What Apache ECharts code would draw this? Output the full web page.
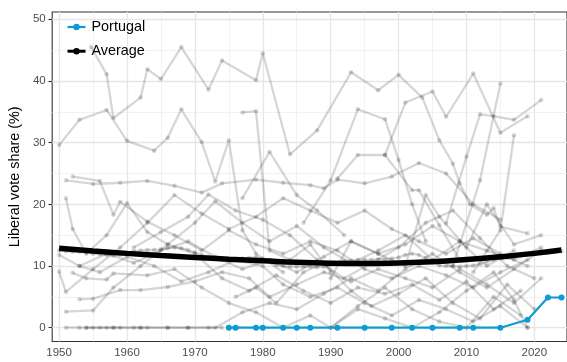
<!DOCTYPE html>
<html>
<head>
<meta charset="utf-8">
<script src="https://cdn.jsdelivr.net/npm/echarts@6/dist/echarts.min.js"></script>
<style>
  html, body { margin: 0; padding: 0; background: #ffffff; overflow: hidden; }
  #chart { width: 567px; height: 362px; }
</style>
</head>
<body>
<div id="chart"></div>
<script>
// Axis breaks
const yearTicks = [1950, 1960, 1970, 1980, 1990, 2000, 2010, 2020];
const yearMinor = [1955, 1965, 1975, 1985, 1995, 2005, 2015];
const shareTicks = [0, 10, 20, 30, 40, 50];
const shareMinor = [5, 15, 25, 35, 45];

// Portugal: election years and liberal vote share (%)
const portugalYears = [1975, 1976, 1979, 1980, 1983, 1985, 1987, 1991, 1995, 1999, 2002, 2005, 2009, 2011, 2015, 2019, 2022, 2024];
const portugalShare = [0, 0, 0, 0, 0, 0, 0, 0, 0, 0, 0, 0, 0, 0, 0, 1.3, 4.9, 4.9];

// Smoothed cross-country average
const averageYears = [1950, 1955, 1960, 1965, 1970, 1975, 1980, 1985, 1990, 1995, 2000, 2005, 2010, 2015, 2020, 2024];
const averageShare = [12.9, 12.45, 12.05, 11.7, 11.4, 11.1, 10.85, 10.6, 10.45, 10.4, 10.5, 10.7, 11.05, 11.5, 12.05, 12.6];

// Year-by-year mean across countries
const yearlyYears = [1950,1951,1952,1953,1954,1955,1956,1957,1958,1959,1960,1961,1962,1963,1964,1965,1966,1967,1968,1969,
  1970,1971,1972,1973,1974,1975,1976,1977,1978,1979,1980,1981,1982,1983,1984,1985,1986,1987,1988,1989,
  1990,1991,1992,1993,1994,1995,1996,1997,1998,1999,2000,2001,2002,2003,2004,2005,2006,2007,2008,2009,
  2010,2011,2012,2013,2014,2015,2016,2017,2018,2019,2020,2021,2022,2023,2024];
const yearlyShare = [12.5,12.4,12.3,12.3,12.2,12.0,11.9,11.8,11.7,11.8,12.0,12.4,12.5,12.6,12.6,12.7,12.9,13.0,12.9,12.6,
  12.2,11.8,11.5,11.3,11.2,11.1,11.1,11.2,11.3,11.4,11.2,10.7,10.2,10.0,9.9,9.9,9.9,9.9,9.8,9.9,
  10.2,10.5,10.8,10.9,11.0,11.0,11.0,11.1,11.1,11.2,11.4,11.8,12.0,11.8,11.3,10.6,10.1,10.0,10.0,9.9,
  10.0,10.1,10.3,10.7,11.0,11.2,11.4,11.6,11.8,11.9,12.0,12.1,12.2,12.3,12.4];

// Other countries: [election year, liberal vote share %]
const countryA = [[1950,29.6],[1953,33.7],[1957,35.3],[1960,30.3],[1964,28.7],[1966,30.8],[1968,35.4],[1971,30.1],[1973,23.7],[1975,30.4],[1977,15.8],[1979,12.0],[1983,9.0]];
const countryB = [[1954.7,45.5],[1957,41.1],[1958,34.0],[1962,37.3],[1963,41.9],[1965,40.3],[1968,45.5],[1972,38.6],[1974,43.3],[1979,40.1],[1980,44.5],[1984,28.1],[1988,32.0],[1993,41.4],[1997,38.5],[2000,41.0],[2003.5,37.3],[2006,30.4],[2008,26.6],[2009,23.4],[2010.5,20.0],[2013,18.3],[2014,19.4],[2015,16.4],[2019,15.3]];
const countryC = [[1977,34.9],[1979,35.1],[1981,12.5],[1984,11.0],[1987,13.5],[1990,9.0]];
const countryD = [[1977,21.0],[1981,28.5],[1985,21.5],[1988,19.0],[1992,15.0]];
const countryE = [[1986,17.0],[1990,23.9],[1994,35.4],[1998,33.8],[2000,27.2],[2002,20.0],[2004,14.0]];
const countryF = [[1991,24.2],[1994,28.0],[1998,28.0],[2002,22.3],[2003,22.3],[2006,16.6],[2009,11.0]];
const countryG = [[1998,28.0],[2001,36.5],[2005,38.3],[2007,34.2],[2011,41.2],[2015,31.6],[2019,34.3]];
const countryH = [[2007,16.9],[2010,27.7],[2012,34.6],[2014,34.3],[2017,33.7],[2021,36.9]];
const countryI = [[2008,10.0],[2012,23.9],[2015,39.6]];
const countryJ = [[2011,9.0],[2015,15.8],[2017,31.2]];
const countryK = [[1951,23.9],[1955,23.3],[1959,23.5],[1963,23.8],[1967,23.0],[1971,21.9],[1974,23.4],[1979,24.0],[1983,23.5],[1987,23.1],[1989,22.6],[1991,24.0],[1995,23.4],[1999,24.5],[2003,26.7],[2007,25.0],[2011,20.0],[2015,17.5]];
const countryL = [[1952,24.5],[1956,23.8],[1958,18.3],[1959,20.4],[1963,17.2],[1967,15.0],[1971,12.5],[1975,15.8],[1979,13.5],[1983,12.0],[1987,14.0],[1991,12.5],[1995,9.5],[1999,8.0],[2003,10.0],[2007,8.5],[2011,6.5],[2015,9.0],[2019,11.0]];
const countryM = [[1951,21.0],[1952,16.0],[1954,12.0],[1957,15.0],[1960,20.2],[1963,15.5],[1966,13.5],[1970,17.0],[1973,20.5],[1977,17.0],[1981,14.0],[1985,16.5],[1989,13.0],[1993,10.5],[1997,12.5],[2001,15.0],[2005,11.0],[2009,14.0],[2013,10.0],[2017,12.5]];
const countryN = [[1950,9.1],[1951,5.8],[1955,9.5],[1959,13.0],[1963,17.0],[1967,21.5],[1971,18.5],[1975,16.0],[1979,18.0],[1983,21.0],[1987,19.0],[1991,17.0],[1995,19.0],[1999,16.0],[2003,14.0],[2007,12.0],[2011,14.5],[2015,12.0],[2019,10.0]];
const countryO = [[1951,2.6],[1955,2.8],[1958,6.5],[1962,10.0],[1966,13.5],[1970,12.0],[1974,8.0],[1978,6.0],[1982,8.5],[1986,6.0],[1990,4.0],[1994,6.5],[1998,5.5],[2002,7.0],[2006,4.5],[2010,7.5],[2014,3.0],[2018,6.0]];
const countryP = [[1953,4.6],[1955,4.7],[1959,6.1],[1962,6.1],[1966,6.6],[1970,7.5],[1974,9.0],[1978,8.0],[1981,5.0],[1985,7.0],[1989,9.0],[1993,7.5],[1997,9.5],[2001,8.0],[2005,6.5],[2009,9.5],[2013,7.0],[2017,4.0],[2021,8.0]];
const countryQ = [[1952,8.9],[1954,8.0],[1957,7.8],[1958,8.8],[1963,8.5],[1967,9.5],[1971,6.5],[1975,4.0],[1979,2.5],[1983,0.0],[1987,2.0],[1990,0.0],[1994,3.5],[1998,6.5],[2002,3.0],[2006,1.0],[2010,0.0],[2014,5.0],[2018,2.0]];
const countryR = [[1950,11.8],[1953,10.0],[1957,12.0],[1961,10.5],[1965,12.5],[1969,14.0],[1973,11.5],[1977,9.5],[1981,11.0],[1985,9.0],[1989,11.5],[1993,14.0],[1997,12.0],[2001,13.5],[2005,16.5],[2009,14.0],[2013,12.5],[2017,11.0],[2021,13.0]];
const countryS = [[1953,10.0],[1956,9.0],[1960,11.5],[1964,10.0],[1968,7.5],[1972,9.0],[1976,11.0],[1980,10.0],[1983,7.0],[1987,5.0],[1991,6.5],[1995,4.0],[1999,2.0],[2003,4.5],[2007,3.0],[2011,1.0],[2015,3.5],[2019,0.0]];
const countryT = [[1961,13.0],[1965,15.5],[1969,18.0],[1972,21.6],[1976,19.0],[1980,17.5],[1984,15.0],[1988,11.0],[1992,8.0],[1996,10.5],[2000,13.0],[2004,17.0],[2008,19.0],[2012,14.5],[2016,10.0],[2020,8.0]];
const countryU = [[1951,0],[1953,0],[1954,0],[1955,0],[1956,0],[1957,0],[1958,0],[1959,0],[1961,0],[1962,0],[1963,0],[1966,0],[1969,0],[1972,0],[1974,0]];
const countryV = [[1954,0],[1958,0],[1962,0],[1966,0],[1969,0],[1973,0],[1977,2.5],[1981,4.0],[1985,3.0],[1989,5.5],[1993,8.0],[1997,6.0],[2001,9.5],[2005,12.0],[2009,9.0],[2013,6.5],[2017,9.5],[2021,12.5]];
const countryW = [[1990,0],[1994,3.0],[1998,1.5],[2002,0],[2006,2.5],[2010,6.0],[2014,9.0],[2017,4.5],[2019,0]];
const countryX = [[1990,8.0],[1993,14.0],[1997,12.0],[2001,10.0],[2004,21.5],[2006,18.0],[2010,13.0],[2013,20.0],[2017,13.5],[2021,15.0]];
const countryY = [[1976,5.0],[1979,6.5],[1982,4.0],[1986,9.0],[1989,10.5],[1993,6.0],[1996,3.5],[2000,5.5],[2004,8.0],[2008,4.0],[2012,1.5],[2016,7.0],[2020,3.0]];

const otherCountries = [countryA, countryB, countryC, countryD, countryE, countryF, countryG, countryH, countryI,
  countryJ, countryK, countryL, countryM, countryN, countryO, countryP, countryQ, countryR, countryS, countryT,
  countryU, countryV, countryW, countryX, countryY];

const PORTUGAL_BLUE = '#0f9ad3';
const FONT = 'Liberation Sans, Arial, sans-serif';
const zip = (xs, ys) => xs.map((x, i) => [x, ys[i]]);

// Panel grid lines, drawn through the axes as mark lines underneath the data
const minorLine = { color: '#ededed', width: 0.7, type: 'solid' };
const majorLine = { color: '#e6e6e6', width: 1.3, type: 'solid' };
const gridMarks = [
  ...shareMinor.map(v => ({ yAxis: v, lineStyle: minorLine })),
  ...yearMinor.map(v => ({ xAxis: v, lineStyle: minorLine })),
  ...shareTicks.map(v => ({ yAxis: v, lineStyle: majorLine })),
  ...yearTicks.map(v => ({ xAxis: v, lineStyle: majorLine }))
];

const greySeries = otherCountries.map(d => ({
  type: 'line', data: d, z: 2, silent: true,
  symbol: 'circle', symbolSize: 4.5, showSymbol: true,
  lineStyle: { color: '#000', opacity: 0.16, width: 2.3 },
  itemStyle: { color: '#000', opacity: 0.16, borderWidth: 0 },
  emphasis: { disabled: true }
}));

const chart = echarts.init(document.getElementById('chart'), null, { renderer: 'canvas' });
chart.setOption({
  animation: false,
  backgroundColor: '#ffffff',
  textStyle: { fontFamily: FONT },
  // the panel runs slightly past the right edge of the canvas
  grid: { left: 51, top: 12, right: -2, bottom: 20.5, show: true, borderColor: '#333333', borderWidth: 1.1, backgroundColor: '#ffffff' },
  legend: {
    orient: 'vertical', left: 61, top: 14,
    itemWidth: 18, itemHeight: 8, itemGap: 8.2,
    formatter: name => '{t|' + name + '}',
    textStyle: { fontFamily: FONT, fontSize: 14.4, color: '#000', lineHeight: 16, rich: { t: { fontFamily: FONT, fontSize: 14.4, color: '#000', padding: [0, 0, 0, 1] } } },
    data: [
      { name: 'Portugal', lineStyle: { width: 2.2 } },
      { name: 'Average', lineStyle: { width: 3 } }
    ]
  },
  xAxis: {
    type: 'value', min: 1948.98, max: 2024.81,
    axisLine: { show: false },
    axisTick: { show: true, customValues: yearTicks, length: 3.7, lineStyle: { color: '#333333', width: 1.1 } },
    axisLabel: { customValues: yearTicks, color: '#4d4d4d', fontFamily: FONT, fontSize: 11.5, margin: 5.5, formatter: v => String(v) },
    splitLine: { show: false }
  },
  yAxis: {
    type: 'value', min: -2.235, max: 51.18,
    name: 'Liberal vote share (%)', nameLocation: 'middle', nameGap: 22,
    nameTextStyle: { fontFamily: 'Liberation Sans', fontSize: 14.4, color: '#000' },
    axisLine: { show: false },
    axisTick: { show: true, customValues: shareTicks, length: 3.7, lineStyle: { color: '#333333', width: 1.1 } },
    axisLabel: { customValues: shareTicks, color: '#4d4d4d', fontFamily: FONT, fontSize: 11.5, margin: 6.5, formatter: v => String(v) },
    splitLine: { show: false }
  },
  series: [
    {
      name: 'panel-grid', type: 'line', data: [], z: 1, silent: true,
      markLine: { z: 1, silent: true, symbol: 'none', label: { show: false }, animation: false, data: gridMarks }
    },
    ...greySeries,
    {
      type: 'line', data: zip(yearlyYears, yearlyShare), z: 2, silent: true,
      symbol: 'circle', symbolSize: 4.5,
      lineStyle: { color: '#000', opacity: 0.16, width: 2.3 },
      itemStyle: { color: '#000', opacity: 0.16, borderWidth: 0 }
    },
    {
      name: 'Average', type: 'line', data: zip(averageYears, averageShare), z: 3, smooth: 0.5,
      symbol: 'circle', symbolSize: 6, showSymbol: false,
      lineStyle: { color: '#000', width: 5.5 }, itemStyle: { color: '#000', borderWidth: 0 }
    },
    {
      name: 'Portugal', type: 'line', data: zip(portugalYears, portugalShare), z: 4,
      symbol: 'circle', symbolSize: 6,
      lineStyle: { color: PORTUGAL_BLUE, width: 2.2 }, itemStyle: { color: PORTUGAL_BLUE, borderWidth: 0 }
    }
  ]
});
</script>
</body>
</html>
